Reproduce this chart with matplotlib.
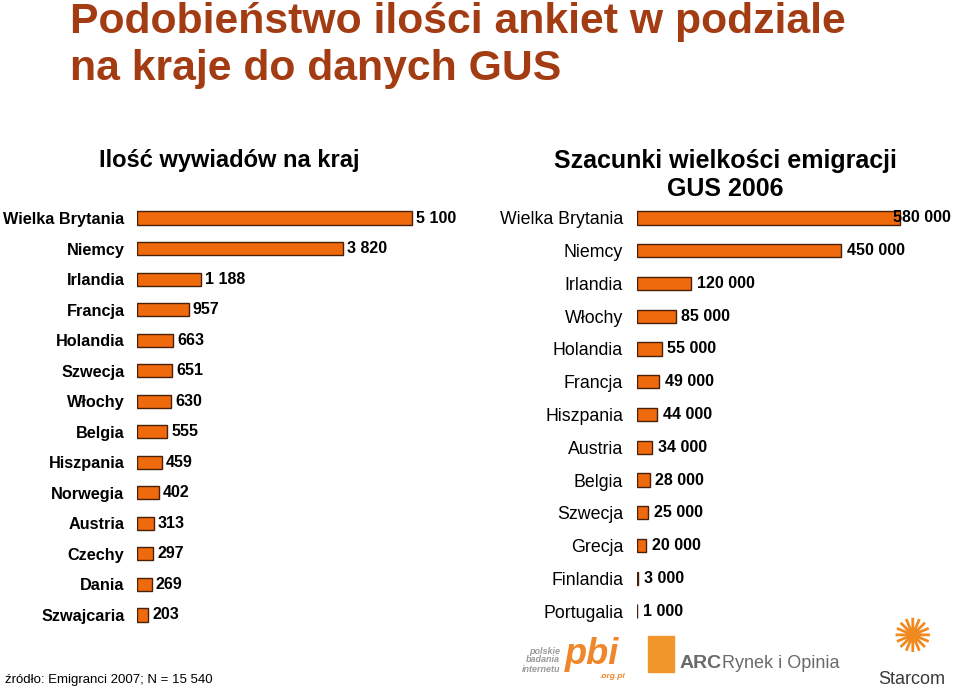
import matplotlib
matplotlib.use("Agg")
import matplotlib.pyplot as plt

plt.rcParams['font.family'] = ['Liberation Sans', 'DejaVu Sans']

W, H = 960, 693

left_countries = ["Wielka Brytania", "Niemcy", "Irlandia", "Francja", "Holandia", "Szwecja",
                  "Włochy", "Belgia", "Hiszpania", "Norwegia", "Austria", "Czechy", "Dania", "Szwajcaria"]
left_values = [5100, 3820, 1188, 957, 663, 651, 630, 555, 459, 402, 313, 297, 269, 203]

right_countries = ["Wielka Brytania", "Niemcy", "Irlandia", "Włochy", "Holandia", "Francja",
                   "Hiszpania", "Austria", "Belgia", "Szwecja", "Grecja", "Finlandia", "Portugalia"]
right_values = [580000, 450000, 120000, 85000, 55000, 49000, 44000, 34000, 28000, 25000, 20000, 3000, 1000]

title_lines = ["Podobieństwo ilości ankiet w podziale", "na kraje do danych GUS"]
left_title = "Ilość wywiadów na kraj"
right_title = "Szacunki wielkości emigracji\nGUS 2006"
source = "źródło: Emigranci 2007; N = 15 540"

BAR = "#EE6A0C"
EDGE = "#4A2008"
TITLE_C = "#A33C12"


def fmt(v):
    return f"{v:,}".replace(",", " ")


fig = plt.figure(figsize=(W / 100, H / 100), dpi=100)


def px_axes(x0, x1, y0, y1):
    return fig.add_axes([x0 / W, 1 - y1 / H, (x1 - x0) / W, (y1 - y0) / H])


# Left chart
axL = px_axes(137, 137 + 275 * 6000 / 5100, 218 - 15.25, 615 + 15.25)
yl = list(range(len(left_values)))
axL.barh(yl, left_values, height=0.43, color=BAR, edgecolor=EDGE, linewidth=1.0)
axL.set_xlim(0, 6000)
axL.set_ylim(len(left_values) - 0.5, -0.5)
axL.set_yticks(yl)
axL.set_yticklabels(left_countries, fontsize=11.7, fontweight="bold")
axL.tick_params(axis="y", length=0, pad=9)
axL.set_xticks([])
for s in axL.spines.values():
    s.set_visible(False)
for y, v in zip(yl, left_values):
    axL.annotate(fmt(v), (v, y), xytext=(3, 0), textcoords="offset points",
                 va="center", ha="left", fontsize=11.5, fontweight="bold")

# Right chart
axR = px_axes(637, 637 + 263 * 700000 / 580000, 218 - 16.4, 611 + 16.4)
yr = list(range(len(right_values)))
axR.barh(yr, right_values, height=0.4, color=BAR, edgecolor=EDGE, linewidth=1.0)
axR.set_xlim(0, 700000)
axR.set_ylim(len(right_values) - 0.5, -0.5)
axR.set_yticks(yr)
axR.set_yticklabels(right_countries, fontsize=12.8)
axR.tick_params(axis="y", length=0, pad=10)
axR.set_xticks([])
for s in axR.spines.values():
    s.set_visible(False)
for y, v in zip(yr, right_values):
    off = -5 if v == max(right_values) else 4
    axR.annotate(fmt(v), (v, y), xytext=(off, 0), textcoords="offset points",
                 va="center", ha="left", fontsize=11.5, fontweight="bold")

# Titles
fig.text(70 / W, 1 - 33 / H, title_lines[0], fontsize=30.8,
         fontweight="bold", color=TITLE_C, ha="left", va="baseline")
fig.text(70 / W, 1 - 80 / H, title_lines[1], fontsize=30.8,
         fontweight="bold", color=TITLE_C, ha="left", va="baseline")
fig.text(229 / W, 1 - 160 / H, left_title, fontsize=17, fontweight="bold",
         ha="center", va="center")
fig.text(725 / W, 1 - 175 / H, right_title, fontsize=18, fontweight="bold",
         ha="center", va="center", linespacing=1.2)
fig.text(5 / W, 1 - 680 / H, source, fontsize=9.5, ha="left", va="center")

# Logo texts (approximation)
fig.text(560 / W, 1 - 660 / H, "polskie\nbadania\ninternetu", fontsize=6.5, fontstyle="italic",
         fontweight="bold", color="#9a9a9a", ha="right", va="center", linespacing=1.0)
fig.text(565 / W, 1 - 655 / H, "pbi", fontsize=26, fontstyle="italic", fontweight="bold",
         color="#F0862A", ha="left", va="center")
fig.text(600 / W, 1 - 676 / H, ".org.pl", fontsize=6, fontstyle="italic", fontweight="bold",
         color="#F0862A", ha="left", va="center")
fig.patches.append(plt.Rectangle((648 / W, 1 - 672 / H), 26 / W, 36 / H,
                                 transform=fig.transFigure, color="#F0962A"))
fig.text(680 / W, 1 - 663 / H, "ARC", fontsize=14, fontweight="bold", color="#6a6a6a",
         ha="left", va="center")
fig.text(722 / W, 1 - 663 / H, "Rynek i Opinia", fontsize=13, color="#6a6a6a",
         ha="left", va="center")
fig.text(912 / W, 1 - 680 / H, "Starcom", fontsize=13, color="#3a3a3a",
         ha="center", va="center")
fig.text(912 / W, 1 - 640 / H, "✺", fontsize=34, color="#F08A20",
         ha="center", va="center", family=["DejaVu Sans"])

fig.savefig("out.png", dpi=100)
